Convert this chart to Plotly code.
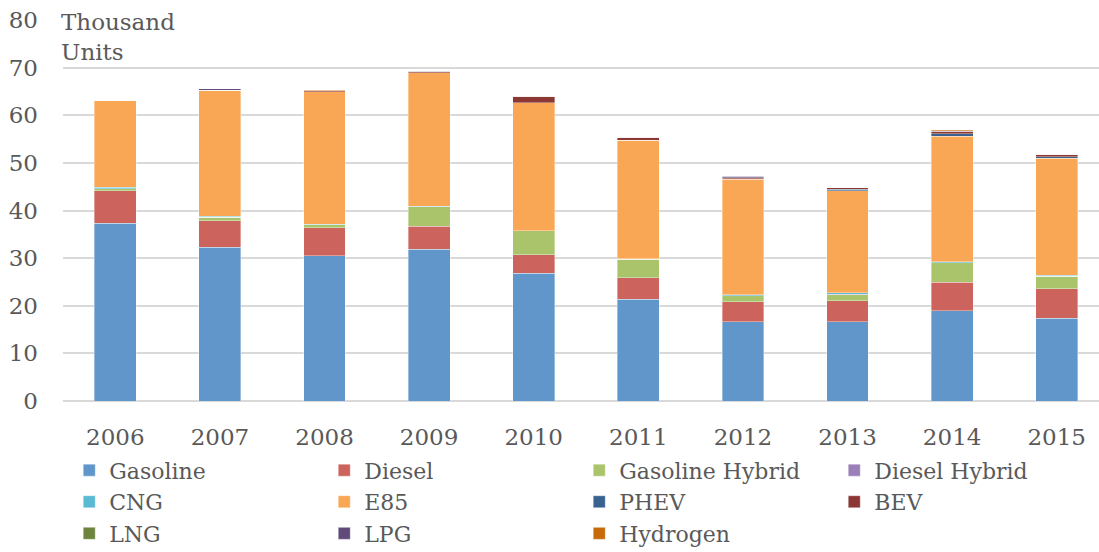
import plotly.graph_objects as go

years = ["2006", "2007", "2008", "2009", "2010", "2011", "2012", "2013", "2014", "2015"]

gasoline = [37.3, 32.3, 30.5, 31.9, 26.8, 21.4, 16.6, 16.6, 19.0, 17.4]
diesel = [6.8, 5.6, 5.9, 4.8, 3.9, 4.5, 4.2, 4.4, 5.9, 6.2]
gasoline_hybrid = [0.5, 0.7, 0.6, 4.1, 5.0, 3.9, 1.3, 1.3, 4.1, 2.6]
diesel_hybrid = [0.0, 0.0, 0.0, 0.0, 0.0, 0.0, 0.0, 0.1, 0.0, 0.0]
cng = [0.3, 0.2, 0.1, 0.1, 0.1, 0.1, 0.2, 0.3, 0.2, 0.2]
e85 = [18.2, 26.5, 27.8, 28.0, 26.8, 24.8, 24.3, 21.4, 26.4, 24.6]
phev = [0.0, 0.0, 0.0, 0.0, 0.0, 0.1, 0.1, 0.4, 0.5, 0.3]
bev = [0.0, 0.0, 0.2, 0.2, 1.4, 0.6, 0.2, 0.3, 0.4, 0.5]
lng = [0.0, 0.0, 0.0, 0.0, 0.0, 0.0, 0.0, 0.0, 0.0, 0.0]
lpg = [0.0, 0.3, 0.0, 0.1, 0.0, 0.0, 0.3, 0.0, 0.1, 0.0]
hydrogen = [0.0, 0.0, 0.1, 0.0, 0.1, 0.1, 0.0, 0.0, 0.2, 0.0]

series = [
    ("Gasoline", gasoline, "#6096C9"),
    ("Diesel", diesel, "#CC645D"),
    ("Gasoline Hybrid", gasoline_hybrid, "#AAC46C"),
    ("Diesel Hybrid", diesel_hybrid, "#9A7FB8"),
    ("CNG", cng, "#5BBAD3"),
    ("E85", e85, "#FAA755"),
    ("PHEV", phev, "#386390"),
    ("BEV", bev, "#8B3834"),
    ("LNG", lng, "#6E843E"),
    ("LPG", lpg, "#5F4A78"),
    ("Hydrogen", hydrogen, "#C76A0C"),
]

font_family = "DejaVu Serif"
text_color = "#595959"

fig = go.Figure()
for name, vals, color in series:
    fig.add_trace(go.Bar(
        x=years, y=vals, name=name,
        marker=dict(color=color, line=dict(color="rgba(255,255,255,0.6)", width=0.6)),
    ))

fig.update_layout(
    barmode="stack",
    bargap=0.6,
    width=1099,
    height=552,
    margin=dict(l=63, r=0, t=20, b=151, autoexpand=False),
    paper_bgcolor="white",
    plot_bgcolor="white",
    font=dict(family=font_family, color=text_color, size=21),
    xaxis=dict(
        type="category",
        range=[-0.5, 9.404],
        automargin=False,
        showgrid=False,
        showline=False,
        ticks="",
        tickfont=dict(size=23, color=text_color),
        ticklabelstandoff=20,
    ),
    yaxis=dict(
        range=[0, 80],
        dtick=10,
        automargin=False,
        showgrid=True,
        gridcolor="#D9D9D9",
        gridwidth=1.5,
        zeroline=True,
        zerolinecolor="#D9D9D9",
        zerolinewidth=1.5,
        showline=False,
        ticks="",
        tickfont=dict(size=23, color=text_color),
        ticklabelstandoff=24,
    ),
    legend=dict(
        orientation="h",
        xref="container",
        yref="container",
        x=0.063,
        xanchor="left",
        y=0.186,
        yanchor="top",
        entrywidth=210,
        entrywidthmode="pixels",
        traceorder="normal",
        font=dict(size=22, color=text_color, family=font_family),
        bgcolor="rgba(0,0,0,0)",
    ),
    annotations=[
        dict(
            text="Thousand<br>Units",
            xref="paper", yref="paper",
            x=0, y=1.0, xanchor="left", yanchor="middle",
            xshift=-4, yshift=-17,
            showarrow=False,
            align="left",
            width=188,
            bgcolor="white",
            font=dict(size=23, color=text_color, family=font_family),
        )
    ],
)

fig.write_html(
    "out.html",
    config={"displayModeBar": False},
    post_script="document.body.style.margin='0px';document.body.style.overflow='hidden';",
)
